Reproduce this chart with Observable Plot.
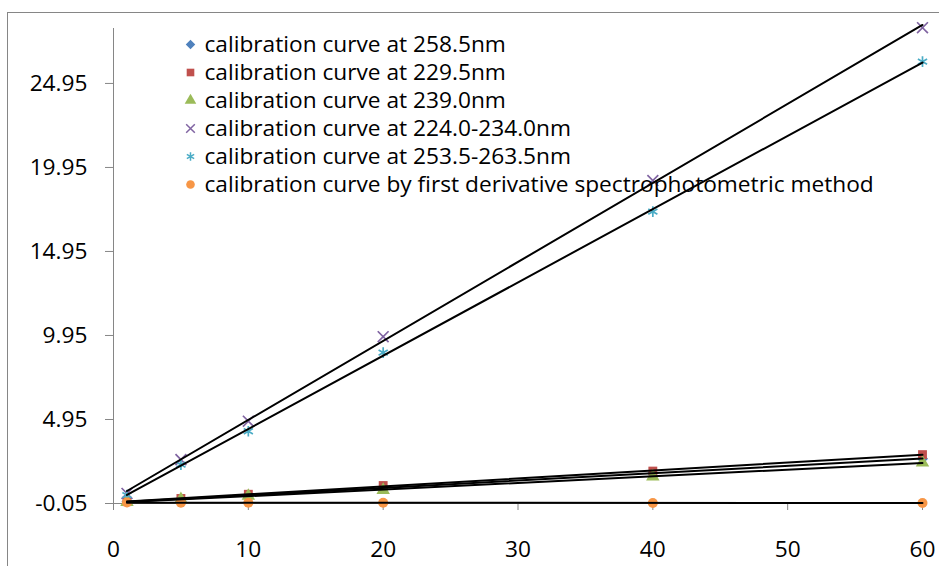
<!DOCTYPE html>
<html><head><meta charset="utf-8">
<script src="https://cdn.jsdelivr.net/npm/d3@7"></script>
<script src="https://cdn.jsdelivr.net/npm/@observablehq/plot@0.6"></script>
<style>
body{margin:0;background:#fff;}
#wrap{position:relative;width:939px;height:566px;overflow:hidden;font-family:"Open Sans",sans-serif;}
#frame{position:absolute;left:7px;top:12px;width:1000px;height:1000px;border-left:1px solid #868686;border-top:1px solid #868686;}
#chart,#legend{position:absolute;left:0;top:0;}
</style></head>
<body><div id="wrap"><div id="frame"></div><div id="chart"></div><div id="legend"></div></div>
<script>
const conc = [1, 5, 10, 20, 40, 60];
const seriesNames = [
  "calibration curve at 258.5nm",
  "calibration curve at 229.5nm",
  "calibration curve at 239.0nm",
  "calibration curve at 224.0-234.0nm",
  "calibration curve at 253.5-263.5nm",
  "calibration curve by first derivative spectrophotometric method"
];
const v258 = [0.05, 0.22, 0.45, 0.88, 1.75, 2.62];
const v229 = [0.06, 0.25, 0.50, 1.02, 1.88, 2.86];
const v239 = [0.04, 0.20, 0.40, 0.75, 1.55, 2.38];
const v224 = [0.55, 2.56, 4.85, 9.88, 19.17, 28.27];
const v253 = [0.45, 2.26, 4.25, 8.93, 17.32, 26.25];
const vDeriv = [0.01, 0.00, -0.01, -0.01, -0.02, -0.02];
const colors = ["#4F81BD", "#C0504D", "#9BBB59", "#8064A2", "#4BACC6", "#F79646"];
const symbols = ["diamond2", "square", "triangle", "times", "asterisk", "circle"];
const stroked = [false, false, false, true, true, false];
const yTicks = [-0.05, 4.95, 9.95, 14.95, 19.95, 24.95];
const xTicks = [0, 10, 20, 30, 40, 50, 60];

const values = [v258, v229, v239, v224, v253, vDeriv];
const rows = seriesNames.map((name, i) => conc.map((c, j) => ({series: name, conc: c, value: values[i][j]})));

const FONT = 22.7;
const yMin = -0.05, yMax = 28.22;
const marks = [
  Plot.ruleX([0], {stroke: "#868686"}),
  Plot.ruleY([yMin], {stroke: "#868686"}),
  Plot.axisY({ticks: yTicks, tickSize: 8, tickPadding: 18, tickFormat: d => d.toFixed(2), stroke: "#868686", fill: "#000", label: null}),
  Plot.axisX({ticks: xTicks, tickSize: 7, tickPadding: 30, tickFormat: d => String(d), stroke: "#868686", fill: "#000", label: null})
];
rows.forEach((data, i) => {
  marks.push(Plot.dot(data, stroked[i]
    ? {x: "conc", y: "value", symbol: "series", stroke: "series", strokeWidth: 1.7, r: 5}
    : {x: "conc", y: "value", symbol: "series", fill: "series", r: 5}));
});
rows.forEach(data => {
  marks.push(Plot.linearRegressionY(data, {x: "conc", y: "value", stroke: "#000", strokeWidth: 2, ci: 0}));
});

const chart = Plot.plot({
  width: 939, height: 566,
  marginLeft: 113, marginRight: 17, marginTop: 28, marginBottom: 63,
  style: {fontFamily: "Open Sans", fontSize: FONT + "px", color: "#000", background: "transparent"},
  x: {domain: [0, 60]},
  y: {domain: [yMin, yMax]},
  color: {domain: seriesNames, range: colors},
  symbol: {domain: seriesNames, range: symbols},
  marks
});
document.getElementById("chart").append(chart);

const legend = Plot.plot({
  width: 939, height: 200,
  marginLeft: 190, marginTop: 42, marginBottom: 14,
  style: {fontFamily: "Open Sans", fontSize: FONT + "px", color: "#000", background: "transparent"},
  y: {type: "point", domain: seriesNames, padding: 0, axis: null},
  color: {domain: seriesNames, range: colors},
  symbol: {domain: seriesNames, range: symbols},
  marks: [
    Plot.dot(seriesNames.filter((d, i) => !stroked[i]), {frameAnchor: "left", y: d => d, symbol: d => d, fill: d => d, r: 4.3}),
    Plot.dot(seriesNames.filter((d, i) => stroked[i]), {frameAnchor: "left", y: d => d, symbol: d => d, stroke: d => d, strokeWidth: 1.5, r: 4}),
    Plot.text(seriesNames, {frameAnchor: "left", y: d => d, text: d => d, dx: 14, textAnchor: "start", fill: "#000", fontSize: FONT})
  ]
});
document.getElementById("legend").append(legend);
</script>
</body></html>
